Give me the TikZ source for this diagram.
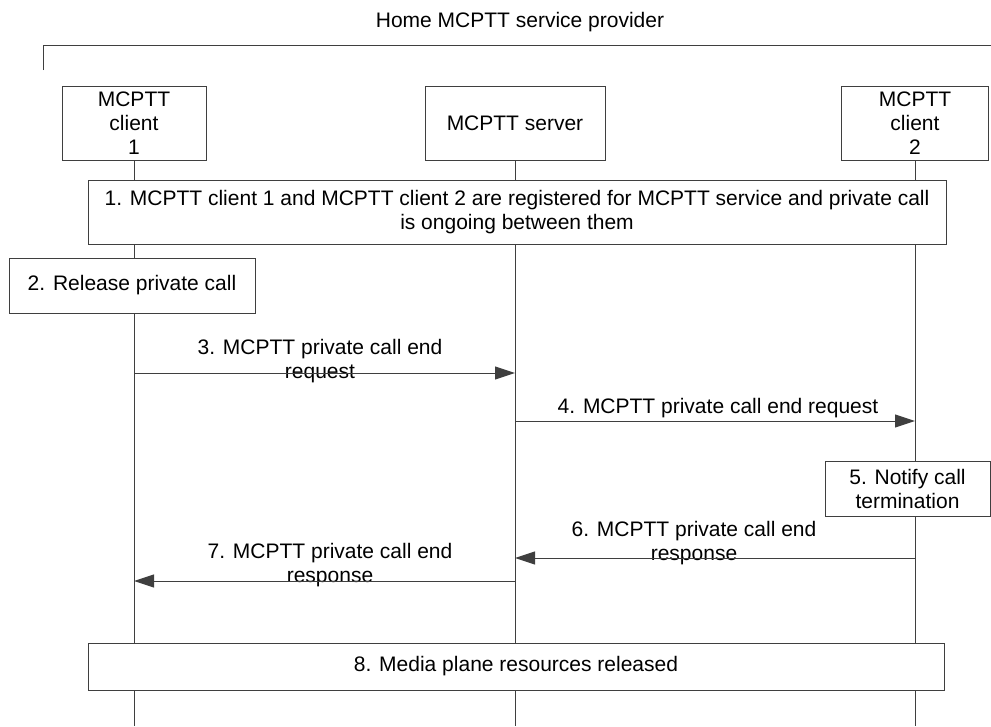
\documentclass[tikz,border=0pt]{standalone}
\usepackage{fontspec}
\setmainfont{Liberation Sans}
\usetikzlibrary{arrows.meta, positioning}
\definecolor{linegray}{HTML}{3F3F3F}

\tikzset{
  entity/.style={draw=linegray, fill=white, line width=1pt, align=center, minimum height=74pt, inner sep=2pt},
  stepbox/.style={draw=linegray, fill=white, line width=1pt, align=center, inner sep=2pt},
  lifeline/.style={draw=linegray, line width=1pt},
  msg/.style={draw=linegray, line width=1pt, -{Triangle[length=20pt,width=13pt]}},
  msglabel/.style={align=center, inner sep=0pt},
}

\begin{document}
\begin{tikzpicture}[x=1pt, y=-1pt, font=\fontsize{21}{24}\selectfont]
    \useasboundingbox (0,0) rectangle (991,726);

    % provider bracket
    \node (title) at (520,22) {Home MCPTT service provider};
    \draw[lifeline] (43,70) -- (43,45) -- (991,45);

    % participants and lifelines
    \node[entity, minimum width=144pt] (c1) at (134,123) {MCPTT\\client\\1};
    \node[entity, minimum width=180pt] (srv) at (515,123) {MCPTT server};
    \node[entity, minimum width=147pt] (c2) at (915,123) {MCPTT\\client\\2};
    \coordinate (bottom) at (0,726);
    \foreach \p in {c1,srv,c2}
        \draw[lifeline] (\p.south) -- (\p |- bottom);

    % steps
    \node[stepbox, minimum width=858pt, minimum height=64pt] (s1) at (517,212)
        {1. MCPTT client 1 and MCPTT client 2 are registered for MCPTT service and private call\\is ongoing between them};
    \node[stepbox, minimum width=246pt, minimum height=55pt] (s2) at (132,285.5) {2. Release private call};
    \node[stepbox, minimum width=165pt, minimum height=55pt] (s5) at (907.5,488.5) {5. Notify call\\termination};
    \node[stepbox, minimum width=856pt, minimum height=47pt] (s8) at (516,666.5) {8. Media plane resources released};

    % messages
    \coordinate (m3) at (0,373);
    \coordinate (m4) at (0,421);
    \coordinate (m6) at (0,558);
    \coordinate (m7) at (0,581);
    \node[msglabel] (l3) at (320,361) {3. MCPTT private call end\\request};
    \draw[msg] (c1 |- m3) -- (srv |- m3);
    \node[msglabel] (l4) at (718,408) {4. MCPTT private call end request};
    \draw[msg] (srv |- m4) -- (c2 |- m4);
    \node[msglabel] (l6) at (694,543) {6. MCPTT private call end\\response};
    \draw[msg] (c2 |- m6) -- (srv |- m6);
    \node[msglabel] (l7) at (330,565) {7. MCPTT private call end\\response};
    \draw[msg] (srv |- m7) -- (c1 |- m7);
\end{tikzpicture}
\end{document}
